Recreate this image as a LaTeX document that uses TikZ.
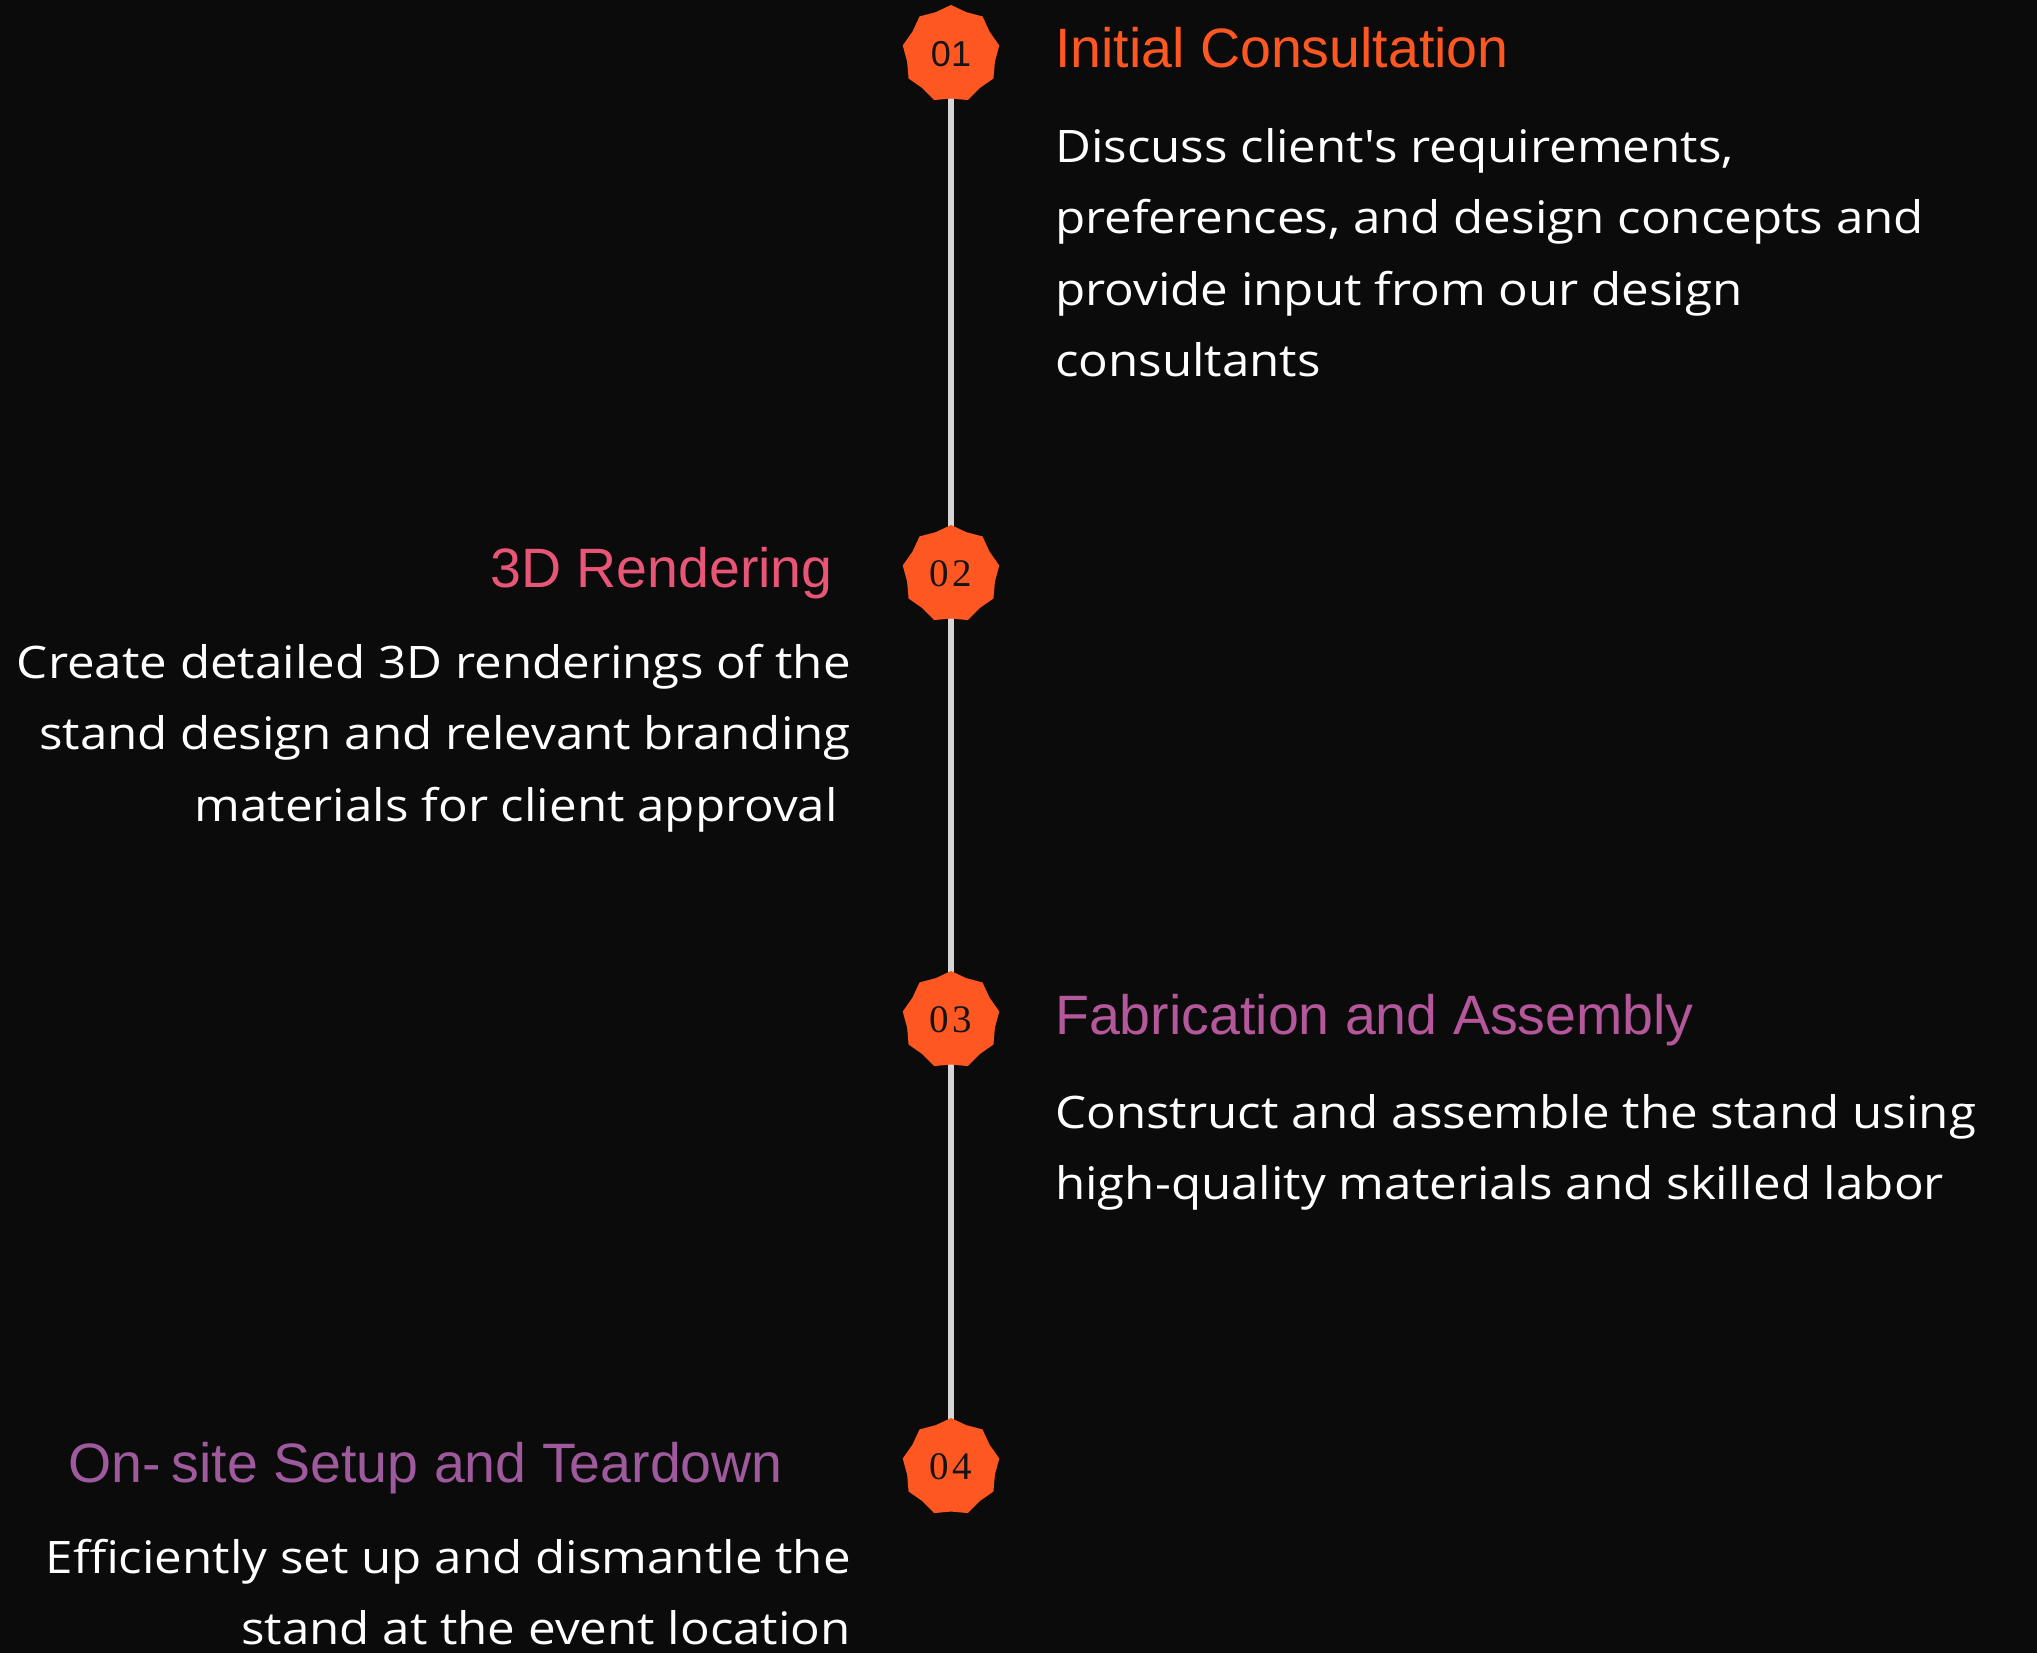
\documentclass[tikz,border=0pt]{standalone}
\usepackage{fontspec}
\setmainfont{Liberation Sans}
\newfontfamily\headfont{Liberation Sans}
\newfontfamily\copyfont[FakeStretch=1.1]{Open Sans}
\newfontfamily\digitfont[LetterSpace=8]{Liberation Serif}
\usetikzlibrary{shapes.geometric}
\definecolor{bgdark}{HTML}{0B0B0B}
\definecolor{badgeorange}{HTML}{FF5722}
\definecolor{numblack}{HTML}{141414}
\definecolor{stemgray}{HTML}{D6D6D6}
\definecolor{tone1}{HTML}{FF5722}
\definecolor{tone2}{HTML}{E85577}
\definecolor{tone3}{HTML}{B5579B}
\definecolor{tone4}{HTML}{9E5A9C}
\pgfdeclarelayer{bg}
\pgfsetlayers{bg,main}

\begin{document}
\begin{tikzpicture}[x=1pt,y=-1pt,
    badge/.style={star, star points=9, star point ratio=1.1, minimum size=98pt,
      inner sep=0pt, fill=badgeorange, text=numblack},
    heading/.style={inner sep=0pt, font=\headfont\fontsize{55.5}{60}\selectfont},
    copy/.style={inner sep=0pt, text=white, font=\copyfont\fontsize{44.8}{71.5}\selectfont},
    stem/.style={draw=stemgray, line width=5.5pt}]
  \useasboundingbox (0,0) rectangle (2037,1653);
  % steps on the timeline
  \node[badge] (b1) at (951,54) {\headfont\fontsize{36}{36}\selectfont 01};
  \node[badge] (b2) at (951,574) {\digitfont\fontsize{39}{39}\selectfont 02};
  \node[badge] (b3) at (951,1020) {\digitfont\fontsize{39}{39}\selectfont 03};
  \node[badge] (b4) at (951,1467) {\digitfont\fontsize{39}{39}\selectfont 04};
  % dark page and the stem behind the badges
  \begin{pgfonlayer}{bg}
    \fill[bgdark] (0,0) rectangle (2037,1653);
    \draw[stem] (b1.center) -- (b4.center);
  \end{pgfonlayer}

  % right side (base = baseline of the last line)
  \node[heading, text=tone1, anchor=base west] (t1) at (1055,68) {Initial Consultation};
  \node[copy, anchor=base west, align=left] (c1) at (1055,376.5)
    {Discuss client\textquotesingle s requirements,\\preferences, and design concepts and\\provide input from our design\\consultants};
  \node[heading, text=tone3, anchor=base west] (t3) at (1055,1034) {Fabrication and Assembly};
  \node[copy, anchor=base west, align=left] (c3) at (1055,1199.5)
    {Construct and assemble the stand using\\high-quality materials and skilled labor};

  % left side
  \node[heading, text=tone2, anchor=base east] (t2) at (833,587) {3D Rendering};
  \node[copy, anchor=base east, align=right] (c2) at (851,821)
    {Create detailed 3D renderings of the\\stand design and relevant branding\\materials for client approval\hspace*{13pt}};
  \node[heading, text=tone4, anchor=base east] (t4) at (783,1482) {On-\kern0.2em site Setup and Teardown};
  \node[copy, anchor=base east, align=right] (c4) at (851,1644.5)
    {Efficiently set up and dismantle the\\stand at the event location};
\end{tikzpicture}
\end{document}
